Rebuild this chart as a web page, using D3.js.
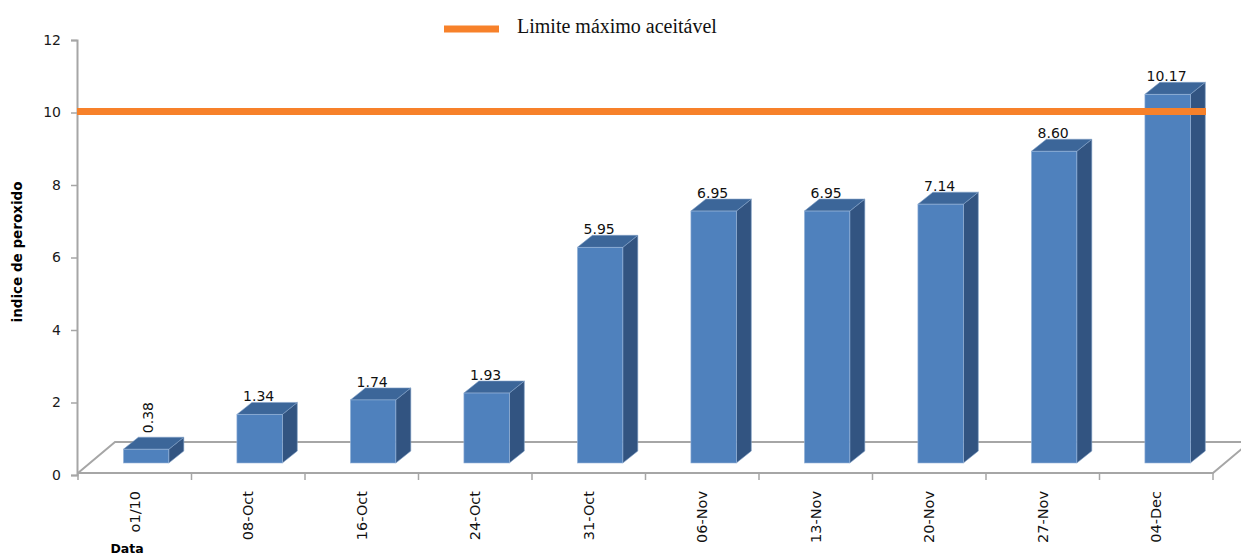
<!DOCTYPE html>
<html>
<head>
<meta charset="utf-8">
<script src="https://cdn.jsdelivr.net/npm/d3@7"></script>
<style>
  body { margin: 0; background: #fff; }
  svg { display: block; }
</style>
</head>
<body>
<div id="chart-area"></div>
<script>
var categories = ["o1/10", "08-Oct", "16-Oct", "24-Oct", "31-Oct", "06-Nov", "13-Nov", "20-Nov", "27-Nov", "04-Dec"];
var values = [0.38, 1.34, 1.74, 1.93, 5.95, 6.95, 6.95, 7.14, 8.60, 10.17];
var labels = ["0.38", "1.34", "1.74", "1.93", "5.95", "6.95", "6.95", "7.14", "8.60", "10.17"];
var yTicks = [0, 2, 4, 6, 8, 10, 12];
var limite = 10;

var width = 1241, height = 555;

var svg = d3.select("#chart-area")
    .append("svg")
    .attr("width", width)
    .attr("height", height);

var x = d3.scaleBand()
    .domain(categories)
    .range([78, 1213])
    .padding(0);

var y = d3.scaleLinear()
    .domain([0, 12])
    .range([475, 40]);

// floor depth (3d look)
var depthX = 37, depthY = 31;
var barDX = 15, barDY = 12;
var barShiftY = 12;   // bars sit a bit behind the front floor edge
var floorY = 473;

// floor
var floor = svg.append("g").attr("stroke", "#a6a6a6").attr("stroke-width", 2).attr("fill", "none");
floor.append("path")
    .attr("d", "M78," + floorY + "L" + (78 + depthX) + "," + (floorY - depthY) +
        "L" + (1213 + depthX + 10) + "," + (floorY - depthY));
floor.append("path")
    .attr("d", "M78," + floorY + "L1213," + floorY + "L" + (1213 + depthX) + "," + (floorY - depthY));

// x ticks at category boundaries
svg.append("g")
    .selectAll("line")
    .data(categories.concat(["end"]))
    .enter()
    .append("line")
    .attr("x1", function(d, i){ return 78 + i * x.step(); })
    .attr("x2", function(d, i){ return 78 + i * x.step(); })
    .attr("y1", floorY)
    .attr("y2", floorY + 7)
    .attr("stroke", "#a6a6a6")
    .attr("stroke-width", 1.5);

// y axis
var yAxisCall = d3.axisLeft(y)
    .tickValues(yTicks)
    .tickSize(6)
    .tickPadding(10)
    .tickFormat(d3.format("d"));
var yAxis = svg.append("g")
    .attr("class", "yaxis")
    .attr("transform", "translate(77,0)")
    .call(yAxisCall);
yAxis.select(".domain").attr("stroke", "#a6a6a6").attr("stroke-width", 2);
yAxis.selectAll(".tick line").attr("stroke", "#a6a6a6").attr("stroke-width", 1.5);
yAxis.selectAll(".tick text")
    .attr("font-family", "DejaVu Sans")
    .attr("font-size", "14px")
    .attr("fill", "#1a1a1a");

// bars
var bw = x.step() * 0.4;
function bx(d){ return x(d) + x.step() * 0.4; }
function by(v){ return y(v) - barShiftY; }

var bars = svg.append("g").selectAll("g")
    .data(values)
    .enter()
    .append("g");

bars.append("polygon")   // side
    .attr("points", function(d, i){
        var x0 = bx(categories[i]) + bw, t = by(d), b = by(0);
        return [[x0, t], [x0 + barDX, t - barDY], [x0 + barDX, b - barDY], [x0, b]].join(" ");
    })
    .attr("fill", "#325481")
    .attr("stroke", "#7f9fc6")
    .attr("stroke-width", 0.6);

bars.append("polygon")   // top
    .attr("points", function(d, i){
        var x0 = bx(categories[i]), t = by(d);
        return [[x0, t], [x0 + barDX, t - barDY], [x0 + bw + barDX, t - barDY], [x0 + bw, t]].join(" ");
    })
    .attr("fill", "#3c6699")
    .attr("stroke", "#7f9fc6")
    .attr("stroke-width", 0.6);

bars.append("rect")      // front
    .attr("x", function(d, i){ return bx(categories[i]); })
    .attr("y", function(d){ return by(d); })
    .attr("width", bw)
    .attr("height", function(d){ return by(0) - by(d); })
    .attr("fill", "#4f81bd")
    .attr("stroke", "#9ab6da")
    .attr("stroke-width", 0.6);

// value labels
svg.append("g").selectAll("text")
    .data(values)
    .enter()
    .append("text")
    .attr("font-family", "DejaVu Sans")
    .attr("font-size", "14px")
    .attr("fill", "#111")
    .attr("text-anchor", function(d, i){ return i == 0 ? "start" : "middle"; })
    .attr("transform", function(d, i){
        var cx = bx(categories[i]) + bw / 2;
        if (i == 0) {
            return "translate(" + (cx + 7) + "," + (by(d) - barDY - 4) + ") rotate(-90)";
        }
        return "translate(" + (cx - 1) + "," + (by(d) - barDY - 1) + ")";
    })
    .text(function(d, i){ return labels[i]; });

// reference line
svg.append("line")
    .attr("x1", 77)
    .attr("x2", 1206)
    .attr("y1", y(limite) - 1)
    .attr("y2", y(limite) - 1)
    .attr("stroke", "#f7812a")
    .attr("stroke-width", 7);

// x labels
svg.append("g").selectAll("text")
    .data(categories)
    .enter()
    .append("text")
    .attr("font-family", "DejaVu Sans")
    .attr("font-size", "14.5px")
    .attr("fill", "#111")
    .attr("text-anchor", "end")
    .attr("transform", function(d){
        return "translate(" + (x(d) + x.step() / 2 + 5) + ",491) rotate(-90)";
    })
    .text(function(d){ return d; });

// axis titles
svg.append("text")
    .attr("font-family", "DejaVu Sans")
    .attr("font-weight", "bold")
    .attr("font-size", "13.5px")
    .attr("text-anchor", "middle")
    .attr("transform", "translate(22,252) rotate(-90)")
    .text("indice de peroxido");

svg.append("text")
    .attr("font-family", "DejaVu Sans")
    .attr("font-weight", "bold")
    .attr("font-size", "12.5px")
    .attr("text-anchor", "middle")
    .attr("x", 127)
    .attr("y", 553)
    .text("Data");

// legend
svg.append("line")
    .attr("x1", 444)
    .attr("x2", 499)
    .attr("y1", 29)
    .attr("y2", 29)
    .attr("stroke", "#f7812a")
    .attr("stroke-width", 7);

svg.append("text")
    .attr("font-family", "Liberation Serif")
    .attr("font-size", "20px")
    .attr("x", 517)
    .attr("y", 33)
    .attr("fill", "#111")
    .text("Limite máximo aceitável");
</script>
</body>
</html>
